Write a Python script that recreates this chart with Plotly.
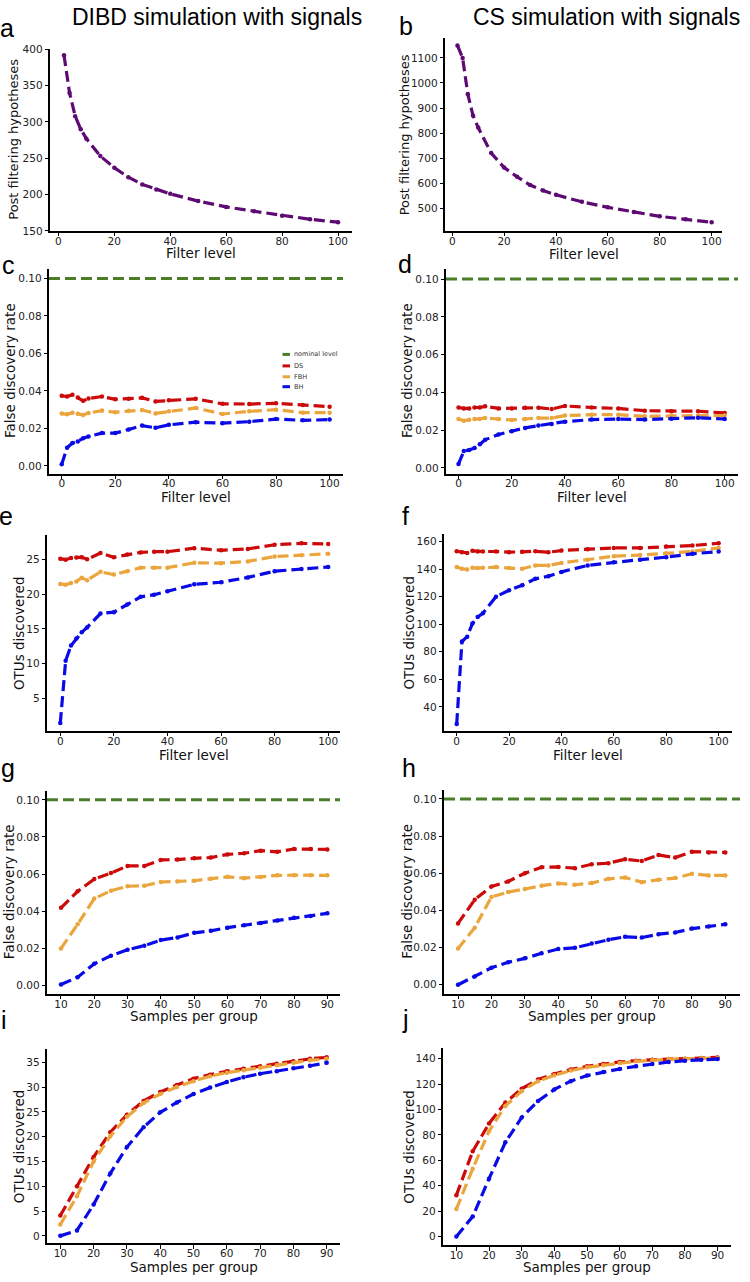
import plotly.graph_objects as go

W, H = 750, 1282

# ---------------- data ----------------
filter_ab = [2, 4, 6, 8, 10, 15, 20, 25, 30, 35, 40, 50, 60, 70, 80, 90, 100]
hyp_dibd = [392, 340, 308, 290, 277, 253, 237, 224, 214, 207, 201, 191, 183, 177, 171, 166, 162]
hyp_cs = [1150, 1100, 955, 870, 822, 720, 662, 625, 592, 570, 553, 525, 503, 484, 467, 455, 443]

filter_lv = [0, 2, 4, 6, 8, 10, 15, 20, 25, 30, 35, 40, 50, 60, 70, 80, 90, 100]
ds_c = [0.0374, 0.0370, 0.0380, 0.0365, 0.0347, 0.0360, 0.0370, 0.0355, 0.0358, 0.0363, 0.0344, 0.0350, 0.0358, 0.0331, 0.0330, 0.0334, 0.0325, 0.0316]
fbh_c = [0.0279, 0.0275, 0.0284, 0.0278, 0.0272, 0.0282, 0.0295, 0.0286, 0.0294, 0.0298, 0.0280, 0.0291, 0.0309, 0.0277, 0.0291, 0.0300, 0.0284, 0.0284]
bh_c = [0.0009, 0.0097, 0.0122, 0.0130, 0.0148, 0.0157, 0.0175, 0.0175, 0.0194, 0.0215, 0.0203, 0.0219, 0.0233, 0.0228, 0.0236, 0.0250, 0.0243, 0.0247]

ds_d = [0.0320, 0.0315, 0.0315, 0.0320, 0.0320, 0.0326, 0.0315, 0.0315, 0.0319, 0.0319, 0.0312, 0.0328, 0.0320, 0.0315, 0.0303, 0.0300, 0.0300, 0.0291]
fbh_d = [0.0259, 0.0250, 0.0255, 0.0259, 0.0259, 0.0264, 0.0259, 0.0254, 0.0259, 0.0264, 0.0264, 0.0277, 0.0282, 0.0282, 0.0273, 0.0277, 0.0277, 0.0277]
bh_d = [0.0021, 0.0089, 0.0095, 0.0105, 0.0125, 0.0149, 0.0177, 0.0194, 0.0212, 0.0224, 0.0233, 0.0245, 0.0256, 0.0259, 0.0256, 0.0261, 0.0266, 0.0259]

ds_e = [25.1, 24.95, 25.2, 25.25, 25.3, 25.0, 25.9, 25.3, 25.7, 26.0, 26.1, 26.1, 26.6, 26.3, 26.5, 27.1, 27.3, 27.2]
fbh_e = [21.45, 21.35, 21.6, 21.8, 22.35, 22.0, 23.2, 22.8, 23.3, 23.8, 23.8, 23.8, 24.5, 24.45, 24.7, 25.4, 25.6, 25.8]
bh_e = [1.45, 10.4, 12.6, 13.6, 14.5, 15.2, 17.2, 17.4, 18.5, 19.6, 19.9, 20.4, 21.4, 21.7, 22.4, 23.3, 23.6, 23.9]

ds_f = [153.0, 152.3, 151.8, 153.3, 152.8, 152.8, 152.8, 152.3, 152.6, 153.0, 152.3, 153.5, 154.5, 155.4, 155.4, 156.4, 157.1, 158.8]
fbh_f = [141.5, 140.3, 139.8, 141.0, 140.8, 141.0, 141.5, 140.8, 140.3, 142.7, 142.7, 144.5, 146.9, 149.4, 150.2, 151.6, 152.8, 155.4]
bh_f = [27.5, 87.5, 91.0, 100.5, 105.3, 108.0, 120.0, 124.7, 128.3, 133.0, 134.8, 138.0, 142.7, 145.0, 146.9, 148.7, 151.1, 152.8]

samples = [10, 15, 20, 25, 30, 35, 40, 45, 50, 55, 60, 65, 70, 75, 80, 85, 90]
ds_g = [0.0418, 0.0507, 0.0573, 0.0605, 0.0644, 0.0644, 0.0676, 0.0678, 0.0685, 0.0689, 0.0706, 0.0712, 0.0726, 0.0720, 0.0735, 0.0735, 0.0733]
fbh_g = [0.0199, 0.0329, 0.0468, 0.0510, 0.0534, 0.0537, 0.0557, 0.0560, 0.0564, 0.0575, 0.0585, 0.0578, 0.0584, 0.0593, 0.0594, 0.0593, 0.0593]
bh_g = [0.0004, 0.0044, 0.0116, 0.0160, 0.0192, 0.0214, 0.0244, 0.0258, 0.0283, 0.0294, 0.0311, 0.0324, 0.0336, 0.0350, 0.0365, 0.0374, 0.0388]

ds_h = [0.0330, 0.0458, 0.0529, 0.0556, 0.0600, 0.0632, 0.0634, 0.0627, 0.0648, 0.0654, 0.0675, 0.0666, 0.0698, 0.0684, 0.0716, 0.0712, 0.0712]
fbh_h = [0.0195, 0.0307, 0.0472, 0.0499, 0.0515, 0.0533, 0.0545, 0.0538, 0.0547, 0.0570, 0.0577, 0.0552, 0.0565, 0.0574, 0.0597, 0.0588, 0.0588]
bh_h = [0.0000, 0.0044, 0.0091, 0.0121, 0.0142, 0.0169, 0.0192, 0.0199, 0.0222, 0.0242, 0.0258, 0.0254, 0.0272, 0.0281, 0.0302, 0.0313, 0.0325]

ds_i = [4.1, 10.0, 15.9, 20.9, 24.4, 27.2, 29.0, 30.4, 31.7, 32.5, 33.2, 33.7, 34.2, 34.7, 35.2, 35.7, 36.0]
fbh_i = [2.3, 8.0, 15.0, 20.1, 24.0, 26.8, 28.6, 30.0, 31.2, 32.2, 32.9, 33.4, 33.9, 34.4, 34.9, 35.4, 35.7]
bh_i = [0.0, 1.1, 6.3, 12.6, 17.9, 21.9, 24.9, 26.9, 28.6, 29.9, 31.0, 32.0, 32.7, 33.2, 33.8, 34.3, 34.9]

ds_j = [32.5, 67.0, 89.0, 105.4, 116.3, 123.6, 128.0, 131.4, 134.0, 135.8, 137.4, 138.4, 139.2, 139.7, 140.0, 140.5, 141.0]
fbh_j = [21.6, 53.3, 83.0, 102.8, 114.4, 122.3, 127.0, 130.6, 133.2, 134.8, 136.6, 137.9, 138.7, 139.7, 140.0, 140.3, 140.5]
bh_j = [0.0, 15.6, 45.5, 74.1, 93.7, 106.7, 115.8, 122.3, 126.7, 129.6, 131.9, 134.0, 135.8, 137.4, 138.4, 139.2, 139.7]

nominal_level = 0.10
column_titles = ["DIBD simulation with signals", "CS simulation with signals"]
legend_names = ["nominal level", "DS", "FBH", "BH"]

# ---------------- styles ----------------
PURPLE = "#5e0a73"
GREEN = "#4a7d2a"
RED = "#cc0a0a"
ORANGE = "#eba53d"
BLUE = "#0a0ae6"
DASH = "11px,5px"
TICKFONT = dict(family="DejaVu Sans", size=10.5, color="#222")
LABFONT = "DejaVu Sans"


def fx(p):
    return p / W


def fy(p):
    return 1 - p / H


fdr_ticks = [0.00, 0.02, 0.04, 0.06, 0.08, 0.10]

panels = [
    dict(letter="a", box=(50, 352, 43, 227), xr=[-3, 105], yr=[150, 401],
         x=filter_ab, series=[(hyp_dibd, PURPLE, "hyp")], xt=list(range(0, 101, 20)),
         yt=list(range(150, 401, 50)), yfmt="", ylab="Post filtering hypotheses", ylab_x=14, ylab_size=13,
         xlab="Filter level", xlab_y=249, letter_xy=(7, 22)),
    dict(letter="b", box=(445, 722, 32, 227), xr=[-2.8, 104], yr=[409, 1181],
         x=filter_ab, series=[(hyp_cs, PURPLE, "hyp")], xt=list(range(0, 101, 20)),
         yt=list(range(500, 1101, 100)), yfmt="", ylab="Post filtering hypotheses", ylab_x=404, ylab_size=13,
         xlab="Filter level", xlab_y=250, letter_xy=(406, 20)),
    dict(letter="c", box=(49, 343, 265, 472), xr=[-4.75, 105], yr=[-0.0041, 0.1053],
         x=filter_lv, series=[(ds_c, RED, "DS"), (fbh_c, ORANGE, "FBH"), (bh_c, BLUE, "BH")],
         xt=list(range(0, 101, 20)), yt=fdr_ticks, yfmt=".2f", ylab="False discovery rate", ylab_x=10, ylab_size=13.5,
         xlab="Filter level", xlab_y=496, nominal=True, letter_xy=(8, 261)),
    dict(letter="d", box=(446, 738, 265, 472), xr=[-4.7, 105], yr=[-0.003, 0.1056],
         x=filter_lv, series=[(ds_d, RED, "DS"), (fbh_d, ORANGE, "FBH"), (bh_d, BLUE, "BH")],
         xt=list(range(0, 101, 20)), yt=fdr_ticks, yfmt=".2f", ylab="False discovery rate", ylab_x=407, ylab_size=13.5,
         xlab="Filter level", xlab_y=496, nominal=True, letter_xy=(405, 260)),
    dict(letter="e", box=(47, 340, 534, 732), xr=[-4.96, 104.4], yr=[0.28, 28.5],
         x=filter_lv, series=[(ds_e, RED, "DS"), (fbh_e, ORANGE, "FBH"), (bh_e, BLUE, "BH")],
         xt=list(range(0, 101, 20)), yt=[5, 10, 15, 20, 25], yfmt="", ylab="OTUs discovered", ylab_x=19, ylab_size=13.5,
         xlab="Filter level", xlab_y=756, letter_xy=(6, 515)),
    dict(letter="f", box=(444, 732, 533, 732), xr=[-4.85, 105.1], yr=[22.4, 165.5],
         x=filter_lv, series=[(ds_f, RED, "DS"), (fbh_f, ORANGE, "FBH"), (bh_f, BLUE, "BH")],
         xt=list(range(0, 101, 20)), yt=list(range(40, 161, 20)), yfmt="", ylab="OTUs discovered", ylab_x=409, ylab_size=13.5,
         xlab="Filter level", xlab_y=756, letter_xy=(405, 515)),
    dict(letter="g", box=(47, 340, 792, 997), xr=[5.8, 93.8], yr=[-0.0045, 0.105],
         x=samples, series=[(ds_g, RED, "DS"), (fbh_g, ORANGE, "FBH"), (bh_g, BLUE, "BH")],
         xt=list(range(10, 91, 10)), yt=fdr_ticks, yfmt=".2f", ylab="False discovery rate", ylab_x=9, ylab_size=13.5,
         xlab="Samples per group", xlab_y=1020, nominal=True, letter_xy=(8, 769)),
    dict(letter="h", box=(444, 740, 791, 997), xr=[5.8, 94.4], yr=[-0.0048, 0.105],
         x=samples, series=[(ds_h, RED, "DS"), (fbh_h, ORANGE, "FBH"), (bh_h, BLUE, "BH")],
         xt=list(range(10, 91, 10)), yt=fdr_ticks, yfmt=".2f", ylab="False discovery rate", ylab_x=407, ylab_size=13.5,
         xlab="Samples per group", xlab_y=1020, nominal=True, letter_xy=(409, 769)),
    dict(letter="i", box=(47, 340, 1053, 1249), xr=[6.0, 94], yr=[-1.5, 37.65],
         x=samples, series=[(ds_i, RED, "DS"), (fbh_i, ORANGE, "FBH"), (bh_i, BLUE, "BH")],
         xt=list(range(10, 91, 10)), yt=list(range(0, 36, 5)), yfmt="", ylab="OTUs discovered", ylab_x=19, ylab_size=13.5,
         xlab="Samples per group", xlab_y=1273, letter_xy=(4, 1024)),
    dict(letter="j", box=(443, 731, 1052, 1251), xr=[5.9, 94.1], yr=[-7.0, 148.3],
         x=samples, series=[(ds_j, RED, "DS"), (fbh_j, ORANGE, "FBH"), (bh_j, BLUE, "BH")],
         xt=list(range(10, 91, 10)), yt=list(range(0, 141, 20)), yfmt="", ylab="OTUs discovered", ylab_x=409, ylab_size=13.5,
         xlab="Samples per group", xlab_y=1273, letter_xy=(405, 1023)),
]

fig = go.Figure()
layout = dict(
    width=W, height=H, margin=dict(l=0, r=0, t=0, b=0),
    paper_bgcolor="white", plot_bgcolor="white", showlegend=False,
)
annotations = []
shapes = []

for k, p in enumerate(panels):
    n = "" if k == 0 else str(k + 1)
    xa, ya = "x" + n, "y" + n
    left, right, top, bottom = p["box"]
    layout["xaxis" + n] = dict(
        domain=[fx(left), fx(right)], anchor=ya, range=p["xr"],
        showline=True, linecolor="black", linewidth=1.5, mirror=False,
        ticks="outside", ticklen=3.5, tickwidth=1.2, tickcolor="black",
        ticklabelstandoff=-4,
        tickvals=p["xt"], tickfont=TICKFONT, showgrid=False, zeroline=False,
    )
    layout["yaxis" + n] = dict(
        domain=[fy(bottom), fy(top)], anchor=xa, range=p["yr"],
        showline=True, linecolor="black", linewidth=1.5, mirror=False,
        ticks="outside", ticklen=3.5, tickwidth=1.2, tickcolor="black",
        tickvals=p["yt"], tickformat=p["yfmt"], tickfont=TICKFONT,
        showgrid=False, zeroline=False,
    )
    if p.get("nominal"):
        shapes.append(dict(
            type="line", xref=xa + " domain", yref=ya, x0=0, x1=1,
            y0=nominal_level, y1=nominal_level,
            line=dict(color=GREEN, width=3, dash=DASH), layer="above",
        ))
    for vals, col, nm in p["series"]:
        fig.add_trace(go.Scatter(
            x=p["x"], y=vals, xaxis=xa, yaxis=ya, name=nm,
            mode="lines+markers",
            line=dict(color=col, width=3.2, dash=DASH),
            marker=dict(color=col, size=4.5),
        ))
    # axis titles
    annotations.append(dict(
        text=p["xlab"], xref="paper", yref="paper",
        x=fx((left + right) / 2), y=fy(p["xlab_y"]),
        xanchor="center", yanchor="middle", showarrow=False,
        font=dict(family=LABFONT, size=13.5, color="#111"),
    ))
    annotations.append(dict(
        text=p["ylab"], xref="paper", yref="paper",
        x=fx(p["ylab_x"]), y=fy((top + bottom) / 2), textangle=-90,
        xanchor="center", yanchor="middle", showarrow=False,
        font=dict(family=LABFONT, size=p["ylab_size"], color="#111"),
    ))
    # panel letter
    lx, ly = p["letter_xy"]
    annotations.append(dict(
        text=p["letter"], xref="paper", yref="paper", x=fx(lx), y=fy(ly),
        xanchor="center", yanchor="middle", showarrow=False,
        font=dict(family="Liberation Sans", size=25, color="black"),
    ))

# column titles
for t, cx in zip(column_titles, [217, 606]):
    annotations.append(dict(
        text=t, xref="paper", yref="paper", x=fx(cx), y=fy(11),
        xanchor="center", yanchor="middle", showarrow=False,
        font=dict(family="Liberation Sans", size=23, color="black"),
    ))

# legend inside panel c
leg_colors = [GREEN, RED, ORANGE, BLUE]
leg_rows = [351.7, 363.3, 374.3, 384.3]
for name, col, ry in zip(legend_names, leg_colors, leg_rows):
    shapes.append(dict(
        type="line", xref="paper", yref="paper",
        x0=fx(282.5), x1=fx(290), y0=fy(ry), y1=fy(ry),
        line=dict(color=col, width=3),
    ))
    annotations.append(dict(
        text=name, xref="paper", yref="paper", x=fx(292), y=fy(ry),
        xanchor="left", yanchor="middle", showarrow=False,
        font=dict(family=LABFONT, size=6.5, color="#333"),
    ))

layout["annotations"] = annotations
layout["shapes"] = shapes
fig.update_layout(**layout)
fig.write_html(
    "out.html",
    config={"displayModeBar": False},
    post_script="document.body.style.margin='0';document.body.style.padding='0';",
)
